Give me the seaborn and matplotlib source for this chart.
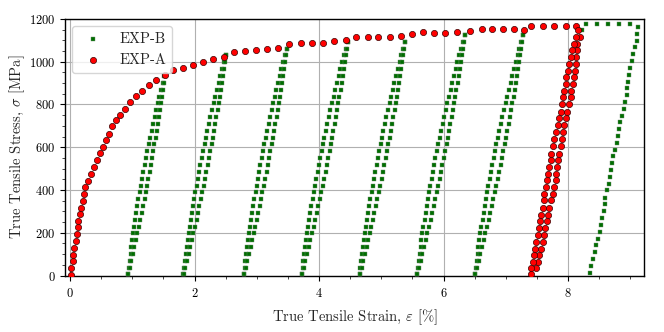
import numpy as np
import pandas as pd
import matplotlib
matplotlib.use('Agg')
import matplotlib.pyplot as plt
import seaborn as sns
from matplotlib.ticker import MultipleLocator

# ---- data ----

# stress levels (MPa) of the points in each EXP-B unload/reload column, bottom to top
loop_stress = [5, 37, 69, 101, 133, 165, 197, 229, 261, 293, 325, 357, 389, 421, 453,
               485, 517, 549, 581, 613, 645, 677, 709, 741, 773, 805, 837, 869, 901,
               933, 965, 997, 1029, 1061, 1093, 1125, 1157]

# EXP-B loops: strain (%) of the reload (left) and unload (right) columns
loop1_reload = [0.932, 0.944, 0.957, 0.971, 0.985, 1.000, 1.015, 1.031, 1.047, 1.064,
                1.081, 1.099, 1.118, 1.137, 1.156, 1.176, 1.197, 1.218, 1.240, 1.263,
                1.286, 1.309, 1.333, 1.358, 1.383, 1.408, 1.435, 1.461, 1.489, 1.516]
loop1_unload = [0.934, 0.960, 0.986, 1.011, 1.035, 1.060, 1.083, 1.107, 1.130, 1.153,
                1.175, 1.197, 1.218, 1.239, 1.259, 1.280, 1.299, 1.319, 1.338, 1.356,
                1.374, 1.392, 1.409, 1.426, 1.442, 1.458, 1.474, 1.489, 1.504, 1.518]

loop2_reload = [1.822, 1.835, 1.849, 1.863, 1.877, 1.892, 1.908, 1.924, 1.941, 1.958,
                1.976, 1.994, 2.013, 2.032, 2.052, 2.073, 2.094, 2.115, 2.137, 2.160,
                2.183, 2.206, 2.230, 2.255, 2.280, 2.306, 2.332, 2.359, 2.386, 2.414,
                2.442, 2.471, 2.500]
loop2_unload = [1.824, 1.852, 1.878, 1.905, 1.931, 1.956, 1.982, 2.007, 2.031, 2.055,
                2.079, 2.102, 2.125, 2.148, 2.170, 2.191, 2.213, 2.234, 2.254, 2.274,
                2.294, 2.313, 2.332, 2.351, 2.369, 2.387, 2.404, 2.421, 2.438, 2.454,
                2.470, 2.485, 2.500]

loop3_reload = [2.792, 2.805, 2.818, 2.832, 2.846, 2.861, 2.876, 2.892, 2.909, 2.925,
                2.943, 2.961, 2.979, 2.998, 3.017, 3.037, 3.057, 3.078, 3.100, 3.121,
                3.144, 3.167, 3.190, 3.214, 3.238, 3.263, 3.288, 3.314, 3.341, 3.368,
                3.395, 3.423, 3.451, 3.480]
loop3_unload = [2.794, 2.821, 2.848, 2.874, 2.899, 2.925, 2.949, 2.974, 2.998, 3.022,
                3.045, 3.068, 3.091, 3.113, 3.135, 3.157, 3.178, 3.199, 3.219, 3.239,
                3.259, 3.278, 3.297, 3.316, 3.334, 3.351, 3.369, 3.386, 3.402, 3.419,
                3.435, 3.450, 3.465, 3.480]

loop4_reload = [3.722, 3.735, 3.749, 3.764, 3.778, 3.794, 3.810, 3.826, 3.843, 3.860,
                3.878, 3.897, 3.916, 3.935, 3.955, 3.975, 3.996, 4.018, 4.040, 4.062,
                4.085, 4.109, 4.133, 4.157, 4.182, 4.208, 4.234, 4.260, 4.287, 4.315,
                4.343, 4.371, 4.400, 4.430, 4.460]
loop4_unload = [3.724, 3.752, 3.780, 3.807, 3.834, 3.860, 3.886, 3.912, 3.937, 3.962,
                3.986, 4.011, 4.034, 4.058, 4.081, 4.103, 4.125, 4.147, 4.169, 4.190,
                4.210, 4.231, 4.251, 4.270, 4.289, 4.308, 4.327, 4.345, 4.362, 4.379,
                4.396, 4.413, 4.429, 4.445, 4.460]

loop5_reload = [4.652, 4.665, 4.679, 4.693, 4.708, 4.723, 4.738, 4.755, 4.771, 4.788,
                4.806, 4.824, 4.843, 4.862, 4.882, 4.902, 4.923, 4.944, 4.965, 4.988,
                5.010, 5.033, 5.057, 5.081, 5.106, 5.131, 5.157, 5.183, 5.210, 5.237,
                5.264, 5.293, 5.321, 5.350, 5.380]
loop5_unload = [4.654, 4.682, 4.709, 4.736, 4.762, 4.788, 4.814, 4.839, 4.864, 4.889,
                4.913, 4.937, 4.960, 4.983, 5.006, 5.028, 5.050, 5.071, 5.093, 5.113,
                5.134, 5.154, 5.174, 5.193, 5.212, 5.230, 5.248, 5.266, 5.283, 5.301,
                5.317, 5.333, 5.349, 5.365, 5.380]

loop6_reload = [5.572, 5.586, 5.600, 5.614, 5.629, 5.644, 5.660, 5.677, 5.694, 5.711,
                5.729, 5.748, 5.767, 5.786, 5.806, 5.826, 5.847, 5.869, 5.891, 5.913,
                5.936, 5.960, 5.984, 6.008, 6.033, 6.058, 6.084, 6.111, 6.138, 6.165,
                6.193, 6.221, 6.250, 6.280, 6.310, 6.340]
loop6_unload = [5.574, 5.603, 5.630, 5.658, 5.685, 5.712, 5.738, 5.764, 5.790, 5.815,
                5.840, 5.864, 5.888, 5.912, 5.936, 5.959, 5.981, 6.004, 6.025, 6.047,
                6.068, 6.089, 6.109, 6.129, 6.149, 6.168, 6.187, 6.205, 6.224, 6.241,
                6.259, 6.276, 6.292, 6.309, 6.324, 6.340]

loop7_reload = [6.502, 6.516, 6.530, 6.545, 6.560, 6.575, 6.592, 6.608, 6.625, 6.643,
                6.661, 6.680, 6.699, 6.719, 6.739, 6.760, 6.781, 6.803, 6.825, 6.848,
                6.871, 6.895, 6.919, 6.944, 6.969, 6.995, 7.021, 7.048, 7.075, 7.103,
                7.131, 7.160, 7.189, 7.219, 7.249, 7.280]
loop7_unload = [6.505, 6.533, 6.561, 6.589, 6.617, 6.644, 6.670, 6.697, 6.723, 6.748,
                6.773, 6.798, 6.823, 6.847, 6.870, 6.894, 6.917, 6.939, 6.961, 6.983,
                7.004, 7.026, 7.046, 7.066, 7.086, 7.106, 7.125, 7.144, 7.162, 7.180,
                7.198, 7.215, 7.232, 7.248, 7.264, 7.280]

# EXP-B last stretch: plateau then final unloading
expb_final_strain = [8.23, 8.29, 8.46, 8.64, 8.82, 8.99, 9.12, 9.11, 9.10, 9.07,
                     9.05, 9.03, 8.99, 8.98, 8.96, 8.95, 8.94, 8.92, 8.90, 8.87,
                     8.84, 8.82, 8.80, 8.79, 8.75, 8.72, 8.71, 8.69, 8.68, 8.66,
                     8.63, 8.60, 8.59, 8.57, 8.55, 8.53, 8.51, 8.48, 8.45, 8.43,
                     8.40, 8.37, 8.35]
expb_final_stress = [1147, 1175, 1175, 1175, 1175, 1175, 1164, 1130, 1098, 1067,
                     1036, 1002, 972, 939, 906, 875, 844, 812, 778, 747,
                     716, 684, 653, 620, 589, 558, 527, 492, 461, 430,
                     398, 364, 333, 300, 269, 237, 206, 172, 141, 109,
                     78, 47, 11]

# EXP-A monotonic curve
expa_strain = [0.01, 0.02, 0.04, 0.05, 0.06, 0.09, 0.11, 0.12, 0.13, 0.155,
               0.18, 0.20, 0.22, 0.24, 0.29, 0.34, 0.385, 0.43, 0.48, 0.535,
               0.58, 0.63, 0.68, 0.74, 0.81, 0.89, 0.96, 1.06, 1.16, 1.27,
               1.375, 1.525, 1.66, 1.81, 1.98, 2.14, 2.30, 2.47, 2.63, 2.81,
               2.99, 3.16, 3.34, 3.52, 3.71, 3.89, 4.07, 4.24, 4.43, 4.60,
               4.78, 4.95, 5.14, 5.32, 5.50, 5.67, 5.85, 6.02, 6.21, 6.42,
               6.61, 6.78, 6.95, 7.13, 7.29, 7.41, 7.60, 7.78, 7.96, 8.13]
expa_stress = [3, 34, 66, 97, 128, 163, 194, 225, 255, 286,
               317, 348, 383, 414, 444, 477, 508, 541, 573, 603,
               634, 662, 697, 727, 753, 781, 811, 838, 864, 892,
               914, 937, 961, 972, 984, 998, 1011, 1022, 1045, 1051,
               1055, 1061, 1066, 1083, 1089, 1087, 1089, 1098, 1103, 1114,
               1114, 1116, 1116, 1119, 1131, 1139, 1134, 1136, 1139, 1145,
               1153, 1153, 1153, 1153, 1147, 1165, 1165, 1165, 1165, 1168]

# EXP-A unloading (right column) and reloading (left column)
expa_unload_strain = [8.16, 8.19, 8.15, 8.14, 8.13, 8.12, 8.11, 8.09, 8.08, 8.05,
                      8.04, 8.01, 7.98, 7.97, 7.94, 7.92, 7.90, 7.88, 7.85, 7.83,
                      7.82, 7.81, 7.80, 7.77, 7.76, 7.73, 7.70, 7.68, 7.66, 7.63,
                      7.61, 7.59, 7.57, 7.54, 7.51, 7.49]
expa_unload_stress = [1147, 1116, 1084, 1053, 1022, 991, 958, 927, 895, 864,
                      833, 802, 767, 736, 705, 673, 639, 608, 570, 539,
                      508, 477, 445, 414, 383, 352, 316, 284, 253, 222,
                      188, 156, 125, 94, 62, 34]
expa_reload_strain = [8.13, 8.10, 8.06, 8.04, 8.01, 8.00, 7.97, 7.96, 7.93, 7.92,
                      7.90, 7.88, 7.85, 7.83, 7.81, 7.78, 7.76, 7.73, 7.72, 7.69,
                      7.68, 7.66, 7.65, 7.62, 7.61, 7.59, 7.56, 7.55, 7.53, 7.51,
                      7.49, 7.46, 7.45, 7.43, 7.41, 7.40]
expa_reload_stress = [1116, 1084, 1053, 1022, 991, 958, 927, 895, 864, 833,
                      802, 767, 736, 705, 673, 639, 608, 570, 539, 508,
                      477, 445, 414, 383, 352, 316, 284, 253, 222, 188,
                      156, 125, 94, 62, 34, 8]

# ---- assemble ----
loops = [loop1_reload, loop1_unload, loop2_reload, loop2_unload, loop3_reload, loop3_unload,
         loop4_reload, loop4_unload, loop5_reload, loop5_unload, loop6_reload, loop6_unload,
         loop7_reload, loop7_unload]

b_strain = np.concatenate([np.array(c) for c in loops] + [np.array(expb_final_strain)])
b_stress = np.concatenate([np.array(loop_stress[:len(c)]) for c in loops] + [np.array(expb_final_stress)])
exp_b = pd.DataFrame({'strain': b_strain, 'stress': b_stress})

exp_a = pd.DataFrame({
    'strain': expa_strain + expa_unload_strain + expa_reload_strain,
    'stress': expa_stress + expa_unload_stress + expa_reload_stress,
})

# ---- plot ----
sns.set_style('ticks')
plt.rcParams['font.family'] = 'serif'
plt.rcParams['font.serif'] = ['cmr10', 'DejaVu Serif']
plt.rcParams['mathtext.fontset'] = 'cm'
plt.rcParams['axes.formatter.use_mathtext'] = True
plt.rcParams['axes.unicode_minus'] = False

fig = plt.figure(figsize=(6.64, 3.32), dpi=100)
ax = fig.add_axes([0.098, 0.17, 0.872, 0.773])

sns.scatterplot(data=exp_b, x='strain', y='stress', marker='s', color='#006e00',
                edgecolor='#6f8f6f', linewidth=0.3, s=9, label='EXP-B', ax=ax, zorder=3)
sns.scatterplot(data=exp_a, x='strain', y='stress', marker='o', color='#ff0000',
                edgecolor='#3a0000', linewidth=0.5, s=20, label='EXP-A', ax=ax, zorder=4)

ax.set_xlim(-0.08, 9.22)
ax.set_ylim(0, 1200)
ax.xaxis.set_major_locator(MultipleLocator(2))
ax.xaxis.set_minor_locator(MultipleLocator(0.5))
ax.yaxis.set_major_locator(MultipleLocator(200))
ax.yaxis.set_minor_locator(MultipleLocator(50))
ax.grid(True, which='major', color='#b0b0b0', linewidth=0.8)
ax.set_axisbelow(True)
ax.tick_params(which='major', direction='out', length=3.5, width=0.8, labelsize=9, colors='k')
ax.tick_params(which='minor', direction='out', length=2, width=0.6)
ax.tick_params(axis='x', which='major', pad=5)
for sp in ax.spines.values():
    sp.set_linewidth(1.0)
    sp.set_color('k')

ax.set_xlabel(r'True Tensile Strain, $\varepsilon$ [%]', fontsize=10.5, labelpad=5)
ax.set_ylabel(r'True Tensile Stress, $\sigma$ [MPa]', fontsize=10.5, labelpad=1)
ax.legend(loc='upper left', fontsize=10.5, frameon=True)

fig.savefig('out.png', dpi=100)
